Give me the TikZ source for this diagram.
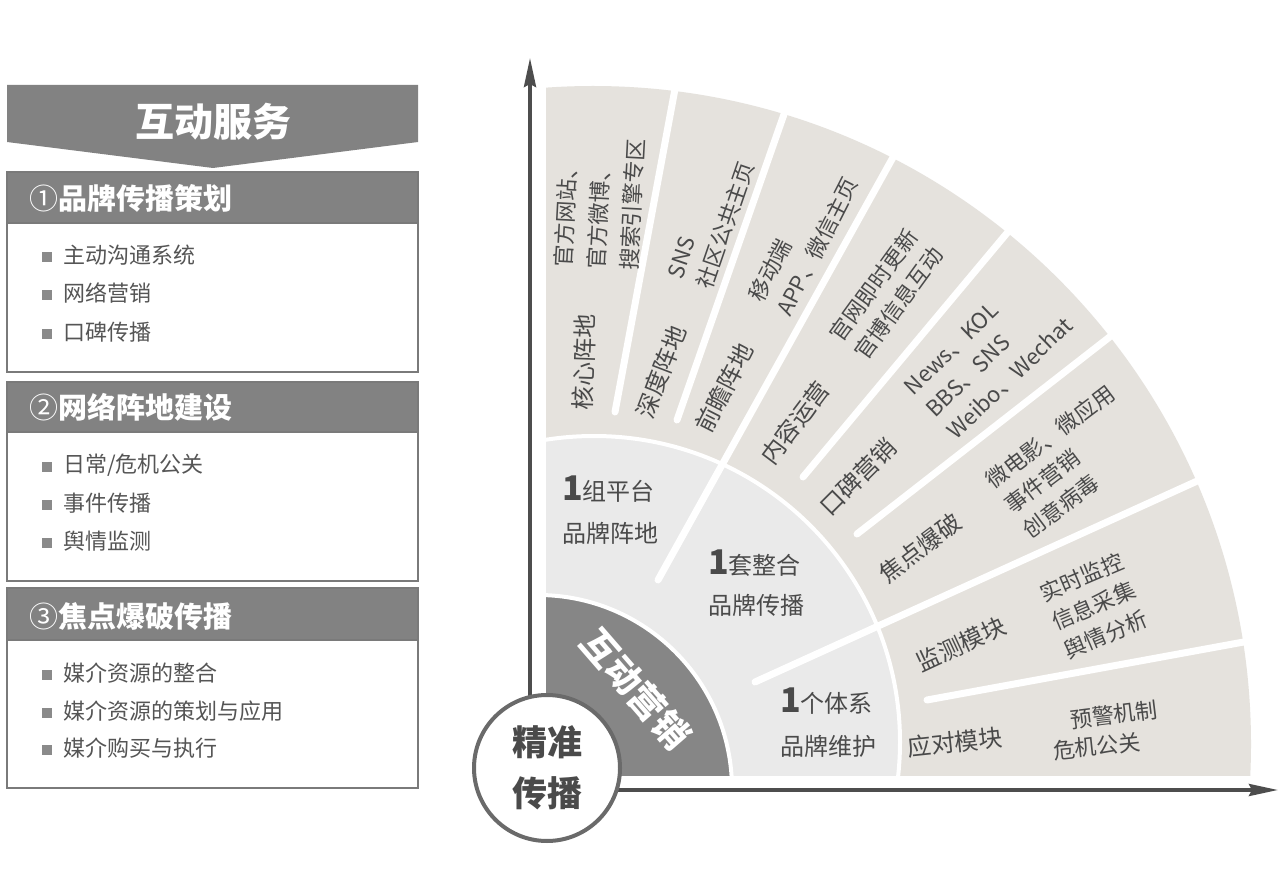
\documentclass[tikz,border=0pt]{standalone}
\usepackage{fontspec}
\setmainfont{Noto Sans CJK SC}
\usetikzlibrary{arrows.meta}
\definecolor{hdr}{HTML}{828282}
\definecolor{darkc}{HTML}{868686}
\definecolor{outerc}{HTML}{E5E2DD}
\definecolor{midc}{HTML}{EAEAEA}
\definecolor{txt}{HTML}{4A4A4A}
\definecolor{bodytxt}{HTML}{555555}
\definecolor{axisc}{HTML}{4D4D4D}
\definecolor{framec}{HTML}{7A7A7A}
\definecolor{bulc}{HTML}{8A8A8A}
\definecolor{ringc}{HTML}{6A6A6A}
\newcommand\bigone{{\bfseries\fontsize{34}{34}\selectfont 1}}
\tikzset{
  fanlbl/.style={inner sep=0pt, text=txt, font=\fontsize{24}{24}\selectfont},
  fansub/.style={inner sep=0pt, text=txt, anchor=west, align=left, font=\fontsize{22}{31}\selectfont},
  midlbl/.style={inner sep=0pt, text=txt, anchor=base west, font=\fontsize{24}{24}\selectfont},
  bulsq/.style={fill=bulc, minimum size=10pt, inner sep=0pt},
  bultext/.style={anchor=west, inner sep=0pt, text=bodytxt, font=\fontsize{22}{22}\selectfont},
  sechead/.style={anchor=west, inner sep=0pt, text=white, font=\bfseries\fontsize{29}{29}\selectfont},
  secbox/.style={draw=framec, line width=1.5pt, fill=white},
  hdrbox/.style={draw=framec, line width=1.5pt, fill=hdr},
  gapline/.style={white, line width=7pt, line cap=round},
  axisline/.style={draw=axisc, line width=3.5pt, -{Stealth[length=29pt,width=12pt,inset=3pt]}},
}
\begin{document}
\begin{tikzpicture}[x=1pt,y=-1pt]
\useasboundingbox (0,0) rectangle (1280,874);
\fill[white] (0,0) rectangle (1280,874);

% ---------- left panel ----------
\fill[hdr] (7,85) -- (418,85) -- (418,142) -- (213,168) -- (7,142) -- cycle;
\node[inner sep=0pt, text=white, font=\bfseries\fontsize{39}{39}\selectfont] (title) at (213,122) {互动服务};

% section 1
\draw[secbox] (7,172) rectangle (418,372);
\draw[hdrbox] (7,172) rectangle (418,223);
\node[sechead] (h1) at (29,198) {{\mdseries ①}品牌传播策划};
\node[bulsq] (q11) at (47,257) {};
\node[bultext] (t11) at (63,255) {主动沟通系统};
\node[bulsq] (q12) at (47,295) {};
\node[bultext] (t12) at (63,293) {网络营销};
\node[bulsq] (q13) at (47,334) {};
\node[bultext] (t13) at (63,332) {口碑传播};

% section 2
\draw[secbox] (7,382) rectangle (418,581);
\draw[hdrbox] (7,382) rectangle (418,432);
\node[sechead] (h2) at (29,407) {{\mdseries ②}网络阵地建设};
\node[bulsq] (q21) at (47,467) {};
\node[bultext] (t21) at (63,465) {日常/危机公关};
\node[bulsq] (q22) at (47,505) {};
\node[bultext] (t22) at (63,503) {事件传播};
\node[bulsq] (q23) at (47,543) {};
\node[bultext] (t23) at (63,541) {舆情监测};

% section 3
\draw[secbox] (7,588) rectangle (418,788);
\draw[hdrbox] (7,588) rectangle (418,640);
\node[sechead] (h3) at (29,616) {{\mdseries ③}焦点爆破传播};
\node[bulsq] (q31) at (47,675) {};
\node[bultext] (t31) at (63,673) {媒介资源的整合};
\node[bulsq] (q32) at (47,713) {};
\node[bultext] (t32) at (63,711) {媒介资源的策划与应用};
\node[bulsq] (q33) at (47,750) {};
\node[bultext] (t33) at (63,748) {媒介购买与执行};

% ---------- fan ----------
\coordinate (g1a) at (615,412); \coordinate (g1b) at (680,62);
\coordinate (g2a) at (677,420); \coordinate (g2b) at (796,80);
\coordinate (gAa) at (658,580); \coordinate (gAb) at (911,125);
\coordinate (g4a) at (803,477); \coordinate (g4b) at (1038,196);
\coordinate (g5a) at (857,534); \coordinate (g5b) at (1148,307);
\coordinate (gBa) at (755,682); \coordinate (gBb) at (1272,447);
\coordinate (g7a) at (927,700); \coordinate (g7b) at (1271,637);
\begin{scope}
  \clip (546,40) rectangle (1276,775);
  \fill[outerc] (593,744) circle[radius=658];
  \fill[midc] (594,742) circle[radius=306];
  \draw[white, line width=4pt] (594,742) circle[radius=306];
  \draw[gapline] (g1a) -- (g1b);
  \draw[gapline] (g2a) -- (g2b);
  \draw[gapline] (gAa) -- (gAb);
  \draw[gapline] (g4a) -- (g4b);
  \draw[gapline] (g5a) -- (g5b);
  \draw[gapline] (gBa) -- (gBb);
  \draw[gapline] (g7a) -- (g7b);
  \fill[darkc] (538,789) circle[radius=194];
  \draw[white, line width=4pt] (538,789) circle[radius=194];
\end{scope}

% axes
\coordinate (O) at (530,790);
\coordinate (ytip) at (530,58);
\coordinate (xtip) at (1278,790);
\draw[axisline] (O) -- (ytip);
\draw[axisline] (O) -- (xtip);

% outer segment labels
\node[fanlbl, rotate=88] (k1) at (584,362) {核心阵地};
\node[fansub, rotate=87, font=\fontsize{22}{33}\selectfont] (k1s) at (596,269) {官方网站、\\官方微博、\\搜索引擎专区};
\node[fanlbl, rotate=69] (k2) at (661,372) {深度阵地};
\node[fansub, rotate=71] (k2s) at (690,283) {SNS\\社区公共主页};
\node[fanlbl, rotate=63] (k3) at (724,388) {前瞻阵地};
\node[fansub, rotate=63] (k3s) at (769,307) {移动端\\APP、微信主页};
\node[fanlbl, rotate=53] (k4) at (795,423) {内容运营};
\node[fansub, rotate=54] (k4s) at (847,348) {官网即时更新\\官博信息互动};
\node[fanlbl, rotate=45] (k5) at (858,477) {口碑营销};
\node[fansub, rotate=44] (k5s) at (930,413) {News、KOL\\BBS、SNS\\Weibo、Wechat};
\node[fanlbl, rotate=37] (k6) at (920,548) {焦点爆破};
\node[fansub, rotate=37] (k6s) at (1007,508) {微电影、微应用\\事件营销\\创意病毒};
\node[fanlbl, rotate=25] (k7) at (961,644) {监测模块};
\node[fansub, rotate=23] (k7s) at (1053,623) {实时监控\\信息采集\\舆情分析};
\node[fanlbl, rotate=6] (k8) at (955,742) {应对模块};
\node[fansub, rotate=7] (k8a) at (1070,720) {预警机制};
\node[fansub, rotate=6] (k8b) at (1053,751) {危机公关};

% middle ring labels
\node[midlbl] (m1) at (562,500) {\bigone 组平台};
\node[midlbl] (m1b) at (562,542) {品牌阵地};
\node[midlbl] (m2) at (708,574) {\bigone 套整合};
\node[midlbl] (m2b) at (708,614) {品牌传播};
\node[midlbl] (m3) at (780,712) {\bigone 个体系};
\node[midlbl] (m3b) at (780,755) {品牌维护};

% inner sector label
\node[inner sep=0pt, text=white, rotate=-49, font=\bfseries\fontsize{36}{36}\selectfont] (hd) at (636,689) {互动营销};

% circle
\node[circle, draw=ringc, line width=4pt, fill=white, minimum size=146pt, inner sep=0pt,
      align=center, text=txt, font=\bfseries\fontsize{35}{51}\selectfont] (jz) at (547,768) {精准\\传播};
\end{tikzpicture}
\end{document}
